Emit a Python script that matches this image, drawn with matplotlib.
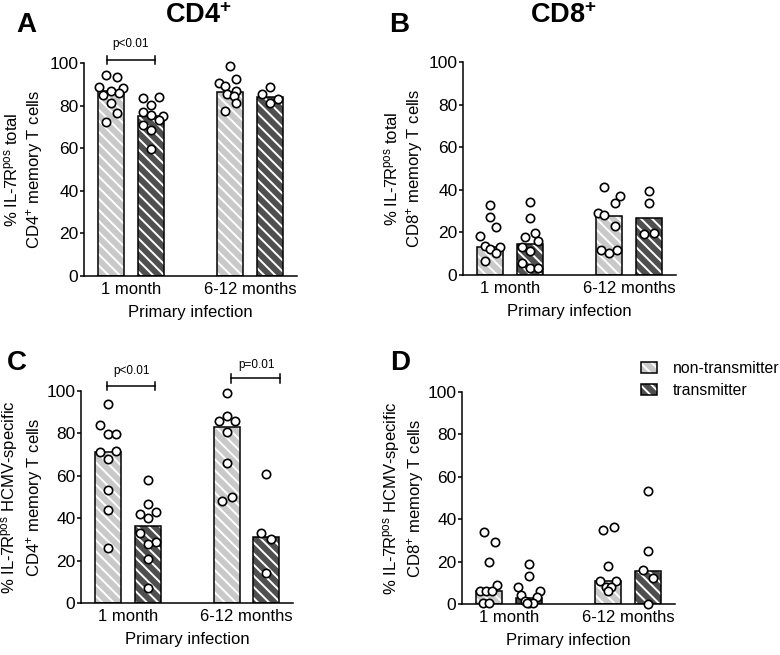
import matplotlib
matplotlib.use('Agg')
import matplotlib.pyplot as plt
from matplotlib.patches import Patch
from matplotlib.legend_handler import HandlerTuple
import numpy as np

plt.rcParams['font.family'] = ['Liberation Sans', 'DejaVu Sans']
plt.rcParams['mathtext.fontset'] = 'custom'
plt.rcParams['mathtext.rm'] = 'Liberation Sans'
plt.rcParams['mathtext.it'] = 'Liberation Sans:italic'
plt.rcParams['mathtext.bf'] = 'Liberation Sans:bold'
plt.rcParams['hatch.linewidth'] = 1.4

# ---------------- data ----------------
groups = ['1 month', '6-12 months']
series = ['non-transmitter', 'transmitter']
bar_pos = [0, 1, 3, 4]          # NT 1m, T 1m, NT 6-12m, T 6-12m

# Panel A: IL-7R+ total CD4 memory
a_bars = [86.7, 74.9, 86.4, 83.9]
a_pts = [[94.2, 93.6, 88.6, 86.7, 88.2, 85.1, 85.9, 81.2, 76.5, 72.4],
         [83.5, 83.9, 80.4, 77.0, 75.4, 75.2, 73.4, 71.0, 68.7, 59.6],
         [98.7, 92.5, 90.4, 89.0, 86.7, 85.4, 84.3, 81.2, 77.4],
         [88.7, 85.4, 82.9, 81.2]]
a_jit = [[-0.13, 0.13, -0.30, 0, 0.29, -0.2, 0.2, 0, 0.13, -0.13],
         [-0.2, 0.19, 0, -0.2, 0, 0.3, 0.19, -0.2, 0, 0],
         [0, 0.13, -0.29, -0.13, 0.13, -0.08, 0.09, 0.13, -0.13],
         [0, -0.2, 0.2, 0]]

# Panel B: IL-7R+ total CD8 memory
b_bars = [13.2, 14.4, 27.9, 26.7]
b_pts = [[32.7, 27.3, 22.6, 18.4, 13.7, 12.2, 13.2, 10.5, 6.6],
         [34.1, 26.7, 19.5, 17.6, 15.9, 13.2, 11.1, 5.7, 3.3, 3.3],
         [41.3, 37.0, 33.6, 29.2, 28.3, 23.2, 11.5, 10.2, 11.5],
         [39.4, 33.8, 19.0, 19.9]]
b_jit = [[0, 0, 0.13, -0.27, -0.13, 0, 0.24, 0.13, -0.13],
         [0, 0, 0.13, -0.13, 0.2, -0.2, 0, -0.2, 0, 0.2],
         [-0.14, 0.27, 0.13, -0.28, -0.14, 0.13, -0.21, 0, 0.2],
         [0, 0, -0.13, 0.13]]

# Panel C: IL-7R+ HCMV-specific CD4 memory
c_bars = [71.3, 36.3, 83.2, 31.2]
c_pts = [[93.9, 84.0, 79.9, 79.9, 71.0, 71.9, 67.8, 53.1, 44.0, 25.9],
         [57.8, 46.8, 41.8, 42.9, 40.0, 32.8, 28.9, 27.8, 20.7, 6.9],
         [98.9, 85.9, 88.1, 85.9, 80.8, 65.9, 48.0, 49.9],
         [60.9, 32.8, 30.1, 14.1]]
c_jit = [[0, -0.2, 0, 0.2, -0.2, 0.2, 0, 0, 0, 0],
         [0, 0, -0.2, 0.2, 0, -0.2, 0.2, 0, 0, 0],
         [0, -0.2, 0, 0.2, 0, 0, -0.13, 0.13],
         [0, -0.13, 0.13, 0]]

# Panel D: IL-7R+ HCMV-specific CD8 memory
d_bars = [6.0, 2.7, 10.7, 15.7]
d_pts = [[33.9, 29.0, 19.9, 9.1, 6.3, 6.3, 6.0, 0.3, 0.3],
         [19.0, 13.0, 8.0, 6.3, 4.4, 3.3, 1.5, 0.5, 0.3, 0.3],
         [35.0, 36.1, 18.1, 11.0, 11.0, 8.2, 8.2, 6.1],
         [53.1, 25.1, 16.0, 12.1, 0.0]]
d_jit = [[-0.14, 0.14, 0, 0.2, -0.23, -0.08, 0.07, -0.15, 0],
         [0, 0, -0.27, 0.28, -0.2, 0.2, -0.1, 0, 0.1, -0.05],
         [-0.14, 0.13, 0, -0.2, 0.2, -0.07, 0.07, 0],
         [0, 0, -0.13, 0.13, 0]]

# ---------------- style ----------------
light = '#c9c9c9'
dark = '#4f4f4f'
bar_colors = [light, dark, light, dark]
hatch = '\\\\\\'
bw = 0.66
lw = 1.1

fig = plt.figure(figsize=(7.8, 6.55), dpi=100)

def draw(rect, bars, pts, jit, ylabel, labx):
    ax = fig.add_axes(rect)
    for i, (x, h) in enumerate(zip(bar_pos, bars)):
        ax.bar(x, h, width=bw, color=bar_colors[i], edgecolor='white',
               hatch=hatch, linewidth=0, zorder=2)
        ax.bar(x, h, width=bw, fill=False, edgecolor='black',
               linewidth=lw, zorder=3)
        ax.scatter(x + np.array(jit[i]), pts[i], s=36, facecolor='white',
                   edgecolor='black', linewidth=1.2, zorder=4, clip_on=False)
    ax.set_xlim(-0.69, 4.68)
    ax.set_ylim(0, 100)
    ax.set_yticks([0, 20, 40, 60, 80, 100])
    ax.set_xticks([0.5, 3.5], groups)
    ax.tick_params(axis='x', length=0, pad=4, labelsize=12)
    ax.tick_params(axis='y', length=3, width=lw, pad=1, labelsize=12.5)
    for s in ['top', 'right']:
        ax.spines[s].set_visible(False)
    for s in ['left', 'bottom']:
        ax.spines[s].set_linewidth(lw)
    ax.set_xlabel('Primary infection', fontsize=12, labelpad=6)
    ax.set_ylabel(ylabel, fontsize=12, va='center', linespacing=1.25)
    ax.yaxis.set_label_coords(labx, 0.5)
    return ax

def bracket(ax, x0, x1, y, lo, hi, txt, tx, ty):
    ax.plot([x0, x1], [y, y], color='black', lw=1.1, clip_on=False)
    ax.plot([x0, x0], [lo, hi], color='black', lw=1.1, clip_on=False)
    ax.plot([x1, x1], [lo, hi], color='black', lw=1.1, clip_on=False)
    ax.text(tx, ty, txt, ha='center', va='baseline', fontsize=8.5)

axA = draw([0.1077, 0.5786, 0.2731, 0.3252], a_bars, a_pts, a_jit,
           '% IL-7R$^{\\mathrm{pos}}$ total\nCD4$^{+}$ memory T cells', -0.282)
axB = draw([0.5936, 0.5802, 0.2731, 0.3252], b_bars, b_pts, b_jit,
           '% IL-7R$^{\\mathrm{pos}}$ total\nCD8$^{+}$ memory T cells', -0.279)
axC = draw([0.1038, 0.0794, 0.2718, 0.3237], c_bars, c_pts, c_jit,
           '% IL-7R$^{\\mathrm{pos}}$ HCMV-specific\nCD4$^{+}$ memory T cells', -0.277)
axD = draw([0.5923, 0.0779, 0.2731, 0.3237], d_bars, d_pts, d_jit,
           '% IL-7R$^{\\mathrm{pos}}$ HCMV-specific\nCD8$^{+}$ memory T cells', -0.275)

bracket(axA, -0.12, 1.11, 101.6, 99.7, 103.4, 'p<0.01', 0.49, 107.5)
bracket(axC, -0.03, 1.19, 102.4, 100.3, 104.2, 'p<0.01', 0.6, 108.0)
bracket(axC, 3.11, 4.34, 106.0, 103.9, 108.2, 'p=0.01', 3.76, 111.0)

# titles and panel letters
fig.text(0.212, 0.965, 'CD4$^{\\mathbf{+}}$', fontsize=19.5, fontweight='bold',
         ha='left', va='baseline')
fig.text(0.680, 0.965, 'CD8$^{\\mathbf{+}}$', fontsize=19.5, fontweight='bold',
         ha='left', va='baseline')
for lx, ly, lt in [(0.0214, 0.9516, 'A'), (0.4987, 0.9516, 'B'),
                   (0.0094, 0.4351, 'C'), (0.5, 0.4351, 'D')]:
    fig.text(lx, ly, lt, fontsize=20, fontweight='bold', ha='left', va='baseline')

# legend
handles = []
for fc in [light, dark]:
    handles.append((Patch(facecolor=fc, edgecolor='white', hatch=hatch, linewidth=0),
                    Patch(fill=False, edgecolor='black', linewidth=lw)))
fig.legend(handles, series, handler_map={tuple: HandlerTuple(ndivide=1, pad=0)},
           loc='upper left', bbox_to_anchor=(0.8214, 0.4488), frameon=False,
           fontsize=11.3, handlelength=1.05, handleheight=0.72, handletextpad=1.0,
           labelspacing=0.45, borderaxespad=0, borderpad=0)

fig.savefig('out.png', dpi=100)
